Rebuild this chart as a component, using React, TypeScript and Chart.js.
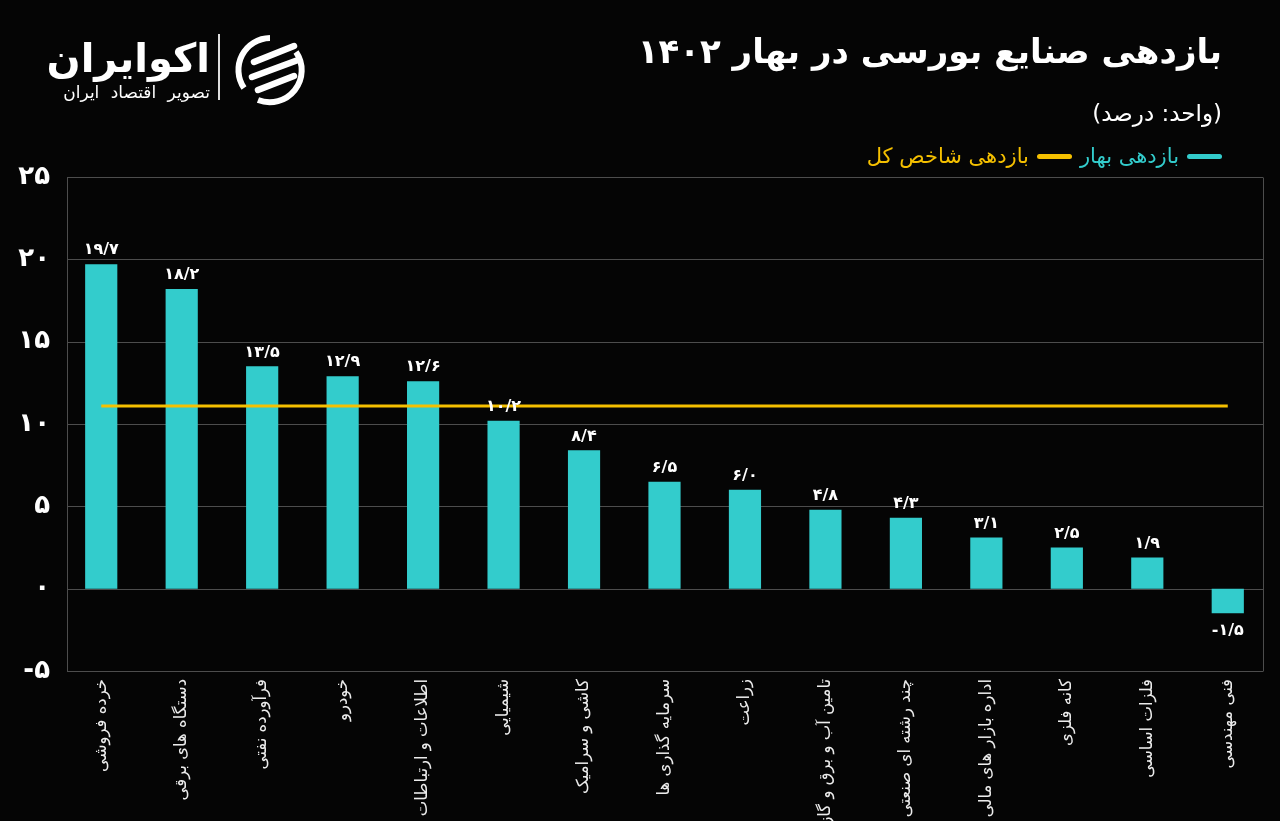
import React, { useEffect, useRef } from "react";
import { Chart, registerables } from "chart.js";

Chart.register(...registerables);

const categories = [
  "خرده فروشی",
  "دستگاه های برقی",
  "فرآورده نفتی",
  "خودرو",
  "اطلاعات و ارتباطات",
  "شیمیایی",
  "کاشی و سرامیک",
  "سرمایه گذاری ها",
  "زراعت",
  "تامین آب و برق و گاز",
  "چند رشته ای صنعتی",
  "اداره بازار های مالی",
  "کانه فلزی",
  "فلزات اساسی",
  "فنی مهندسی",
];

const springReturn = [19.7, 18.2, 13.5, 12.9, 12.6, 10.2, 8.4, 6.5, 6.0, 4.8, 4.3, 3.1, 2.5, 1.9, -1.5];

const indexReturn = [11.1, 11.1, 11.1, 11.1, 11.1, 11.1, 11.1, 11.1, 11.1, 11.1, 11.1, 11.1, 11.1, 11.1, 11.1];

const yTicks = [-5, 0, 5, 10, 15, 20, 25];

const CYAN = "#33CCCC";
const YELLOW = "#F5C000";
const GRID = "#4d4d4d";
const FONT = "'DejaVu Sans', sans-serif";
const FRAME_LEFT = 67;
const FRAME_RIGHT = 1263;

function toFa(s: string): string {
  return s.replace(/\d/g, (d) => "۰۱۲۳۴۵۶۷۸۹"[+d]);
}

const framePlugin = {
  id: "frame",
  beforeDatasetsDraw(chart: any) {
    const { ctx } = chart;
    const y = chart.scales.y;
    ctx.save();
    ctx.strokeStyle = GRID;
    ctx.lineWidth = 1;
    yTicks.forEach((v) => {
      const py = Math.round(y.getPixelForValue(v)) + 0.5;
      ctx.beginPath();
      ctx.moveTo(FRAME_LEFT, py);
      ctx.lineTo(FRAME_RIGHT, py);
      ctx.stroke();
    });
    const top = Math.round(y.getPixelForValue(25)) + 0.5;
    const bottom = Math.round(y.getPixelForValue(-5)) + 0.5;
    ctx.beginPath();
    ctx.moveTo(FRAME_LEFT + 0.5, top);
    ctx.lineTo(FRAME_LEFT + 0.5, bottom);
    ctx.moveTo(FRAME_RIGHT + 0.5, top);
    ctx.lineTo(FRAME_RIGHT + 0.5, bottom);
    ctx.stroke();
    ctx.restore();
  },
};

const labelPlugin = {
  id: "barLabels",
  afterDatasetsDraw(chart: any) {
    const { ctx } = chart;
    const meta = chart.getDatasetMeta(1);
    ctx.save();
    ctx.fillStyle = "#ffffff";
    ctx.font = `bold 16px ${FONT}`;
    ctx.textAlign = "center";
    meta.data.forEach((el: any, i: number) => {
      const v = springReturn[i];
      const txt = toFa(v.toFixed(1)).replace(".", "/");
      if (v >= 0) {
        ctx.textBaseline = "bottom";
        ctx.fillText(txt, el.x, el.y - 6);
      } else {
        ctx.textBaseline = "top";
        ctx.fillText(txt, el.x, el.y + 9);
      }
    });
    ctx.restore();
  },
};

function Logo() {
  return (
    <div style={{ position: "absolute", left: 48, top: 30, width: 270, height: 80 }}>
      <div
        dir="rtl"
        style={{
          position: "absolute",
          right: 108,
          top: 4,
          fontFamily: FONT,
          fontWeight: "bold",
          fontSize: 40,
          color: "#fff",
          whiteSpace: "nowrap",
          lineHeight: "48px",
        }}
      >
        اکوایران
      </div>
      <div
        dir="rtl"
        style={{
          position: "absolute",
          right: 108,
          top: 52,
          fontFamily: FONT,
          fontSize: 17,
          wordSpacing: 6,
          color: "#fff",
          whiteSpace: "nowrap",
          lineHeight: "20px",
        }}
      >
        تصویر اقتصاد ایران
      </div>
      <div style={{ position: "absolute", left: 170, top: 4, width: 2, height: 66, background: "#ddd" }} />
      <svg style={{ position: "absolute", left: 184, top: 2 }} width="76" height="76" viewBox="0 0 76 76">
        <path d="M38 6 A32 32 0 0 0 12 56" stroke="#fff" strokeWidth="6" fill="none" />
        <path d="M64 20 A32 32 0 0 1 26 68" stroke="#fff" strokeWidth="6" fill="none" />
        <path d="M22 30 L62 14" stroke="#fff" strokeWidth="6.5" strokeLinecap="round" />
        <path d="M20 45 L66 28" stroke="#fff" strokeWidth="6.5" strokeLinecap="round" />
        <path d="M26 58 L62 44" stroke="#fff" strokeWidth="6.5" strokeLinecap="round" />
      </svg>
    </div>
  );
}

export default function App() {
  const ref = useRef<HTMLCanvasElement | null>(null);

  useEffect(() => {
    document.body.style.margin = "0";
    document.body.style.background = "#050505";
    const canvas = ref.current;
    if (!canvas) return;
    const chart = new Chart(canvas, {
      type: "bar",
      data: {
        labels: categories,
        datasets: [
          {
            type: "line" as const,
            label: "بازدهی شاخص کل",
            data: indexReturn,
            borderColor: YELLOW,
            borderWidth: 3,
            pointRadius: 0,
            fill: false,
            order: 0,
          },
          {
            type: "bar" as const,
            label: "بازدهی بهار",
            data: springReturn,
            backgroundColor: CYAN,
            borderWidth: 0,
            categoryPercentage: 0.8,
            barPercentage: 0.5,
            order: 1,
          },
        ] as any,
      },
      options: {
        responsive: false,
        animation: false,
        layout: { padding: { top: 177, right: 12, left: 0, bottom: 0 } },
        plugins: {
          legend: { display: false },
          tooltip: { enabled: false },
          title: { display: false },
        },
        scales: {
          x: {
            grid: { display: false, drawTicks: false },
            border: { display: false },
            ticks: {
              autoSkip: false,
              minRotation: 90,
              maxRotation: 90,
              padding: 8,
              color: "#ececec",
              font: { family: FONT, size: 16.5 },
            },
            afterFit: (scale: any) => {
              scale.height = 150;
            },
          },
          y: {
            min: -5,
            max: 25,
            afterBuildTicks: (scale: any) => {
              scale.ticks = yTicks.map((v) => ({ value: v }));
            },
            grid: { display: false, drawTicks: false },
            border: { display: false },
            ticks: {
              padding: 11,
              color: "#ffffff",
              font: { family: FONT, size: 26, weight: "bold" },
              callback: (v: any) => toFa(String(v)),
            },
            afterFit: (scale: any) => {
              scale.width = 61;
            },
          },
        },
      },
      plugins: [framePlugin, labelPlugin],
    });
    return () => chart.destroy();
  }, []);

  return (
    <div style={{ position: "relative", width: 1280, height: 821, background: "#050505", overflow: "hidden" }}>
      <canvas ref={ref} width={1280} height={821} style={{ position: "absolute", left: 0, top: 0 }} />
      <Logo />
      <div
        dir="rtl"
        style={{
          position: "absolute",
          right: 58,
          top: 25,
          fontFamily: FONT,
          fontWeight: "bold",
          fontSize: 34,
          color: "#fff",
          whiteSpace: "nowrap",
          lineHeight: "52px",
        }}
      >
        بازدهی صنایع بورسی در بهار ۱۴۰۲
      </div>
      <div
        dir="rtl"
        style={{
          position: "absolute",
          right: 58,
          top: 97,
          fontFamily: FONT,
          fontSize: 23,
          color: "#fff",
          whiteSpace: "nowrap",
          lineHeight: "32px",
        }}
      >
        (واحد: درصد)
      </div>
      <div
        dir="rtl"
        style={{
          position: "absolute",
          right: 58,
          top: 141,
          fontFamily: FONT,
          fontSize: 21,
          whiteSpace: "nowrap",
          lineHeight: "30px",
          display: "flex",
          alignItems: "center",
          gap: 8,
        }}
      >
        <span style={{ display: "inline-block", width: 35, height: 5, borderRadius: 3, background: CYAN }} />
        <span style={{ color: CYAN }}>بازدهی بهار</span>
        <span style={{ display: "inline-block", width: 35, height: 5, borderRadius: 3, background: YELLOW }} />
        <span style={{ color: YELLOW }}>بازدهی شاخص کل</span>
      </div>
    </div>
  );
}
